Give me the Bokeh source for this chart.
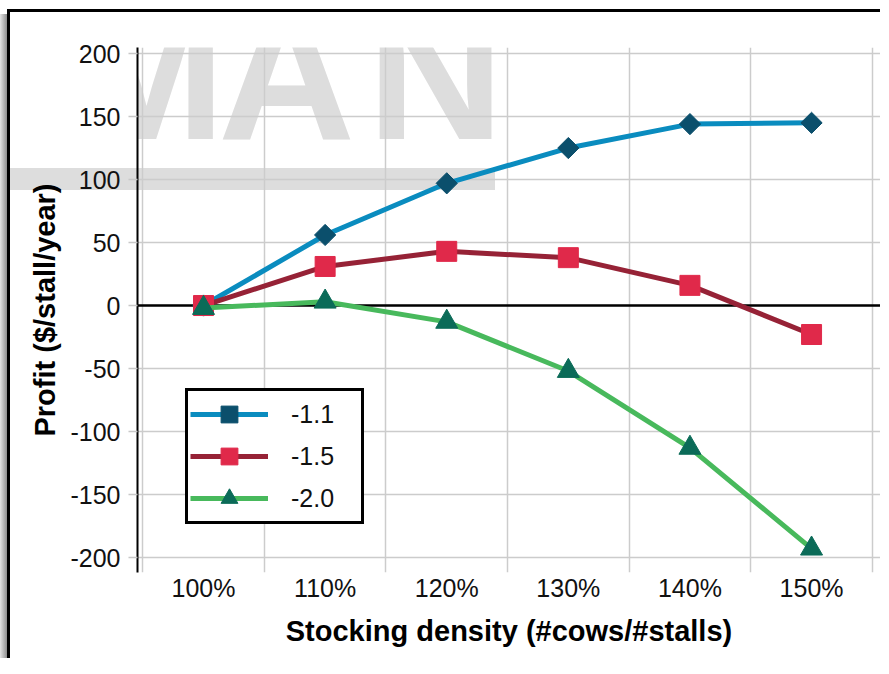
import math
from bokeh.plotting import figure
from bokeh.models import (Range1d, FixedTicker, Legend, LegendItem, Span, Label)
from bokeh.embed import file_html
from bokeh.resources import INLINE

# ---------------- data ----------------
categories = ["100%", "110%", "120%", "130%", "140%", "150%"]
series_names = ["-1.1", "-1.5", "-2.0"]
profit_11 = [0, 56, 97, 125, 144, 145]
profit_15 = [0, 31, 43, 38, 16, -23]
profit_20 = [-2, 3, -13, -52, -113, -193]
y_ticks = [-200, -150, -100, -50, 0, 50, 100, 150, 200]
y_tick_labels = ["-200", "-150", "-100", "-50", "0", "50", "100", "150", "200"]
x_title = "Stocking density (#cows/#stalls)"
y_title = "Profit ($/stall/year)"
watermark = "YMAN"

# ---------------- styles ----------------
REG = "Liberation Sans"
line_colors = ["#0a8cbf", "#962236", "#48b95c"]
marker_colors = ["#0b4f6c", "#e0294a", "#0b6b58"]
markers = ["square", "square", "triangle"]
angles = [math.pi / 4, 0, 0]
sizes = [15, 20, 22]

# decorative page background: frame lines, left shadow, grey logo band
page_background = ", ".join([
    "linear-gradient(#000,#000) 7px 9px / 3px 665px no-repeat",
    "linear-gradient(#000,#000) 7px 9px / 882px 3px no-repeat",
    "linear-gradient(to right,#e4e4e4,#8e8e8e) 0px 14px / 7px 660px no-repeat",
    "linear-gradient(#dddddd,#dddddd) 0px 168px / 495px 22px no-repeat",
    "#ffffff",
])

xs = list(range(len(categories)))

p = figure(width=880, height=658, output_backend="svg", toolbar_location=None,
           x_range=Range1d(-0.543, 5.567), y_range=Range1d(-211.9, 204.8),
           min_border_left=137, min_border_right=0, min_border_top=47,
           min_border_bottom=86)
p.outline_line_color = None
p.border_fill_alpha = 0
p.background_fill_alpha = 0
p.styles = {"background": page_background}

# grids
p.xgrid.ticker = FixedTicker(ticks=[i + 0.5 for i in range(-1, len(categories))])
p.ygrid.ticker = FixedTicker(ticks=y_ticks)
for g in (p.xgrid, p.ygrid):
    g.grid_line_color = "#cccccc"
    g.grid_line_width = 1.5

# x axis
p.xaxis.ticker = FixedTicker(ticks=xs)
p.xaxis.major_label_overrides = {i: c for i, c in zip(xs, categories)}
p.xaxis.axis_line_color = None
p.xaxis.major_tick_line_color = None
p.xaxis.minor_tick_line_color = None
p.xaxis.major_tick_out = 0
p.xaxis.major_tick_in = 0
p.xaxis.minor_tick_out = 0
p.xaxis.minor_tick_in = 0
p.xaxis.major_label_standoff = 1
p.xaxis.major_label_text_font = REG
p.xaxis.major_label_text_font_size = "25px"
p.xaxis.major_label_text_color = "#111111"
p.xaxis.axis_label = x_title
p.xaxis.axis_label_text_font = REG
p.xaxis.axis_label_text_font_style = "bold"
p.xaxis.axis_label_text_font_size = "29px"
p.xaxis.axis_label_text_color = "black"
p.xaxis.axis_label_standoff = 10

# y axis
p.yaxis.ticker = FixedTicker(ticks=y_ticks)
p.yaxis.major_label_overrides = {t: s for t, s in zip(y_ticks, y_tick_labels)}
p.yaxis.axis_line_color = "black"
p.yaxis.axis_line_width = 2
p.yaxis.major_tick_in = 0
p.yaxis.major_tick_out = 9
p.yaxis.major_tick_line_color = "#c8c8c8"
p.yaxis.major_tick_line_width = 1.5
p.yaxis.minor_tick_line_color = None
p.yaxis.major_label_standoff = 8
p.yaxis.major_label_text_font = REG
p.yaxis.major_label_text_font_size = "25px"
p.yaxis.major_label_text_color = "#111111"
p.yaxis.axis_label = y_title
p.yaxis.axis_label_text_font = REG
p.yaxis.axis_label_text_font_style = "bold"
p.yaxis.axis_label_text_font_size = "29px"
p.yaxis.axis_label_text_color = "black"
p.yaxis.axis_label_standoff = 6

# decorative watermark letters (screen px from frame bottom-left)
wm_pos = [-149, 9, 149, 298]
for ch, sx in zip(watermark, wm_pos):
    p.add_layout(Label(x=sx, y=394, x_units="screen", y_units="screen",
                       text=ch, text_align="center",
                       text_font=REG, text_font_style="bold",
                       text_font_size="190px", text_color="#dddddd",
                       level="image"))

# zero line
p.add_layout(Span(location=0, dimension="width", line_color="black",
                  line_width=2.5, level="underlay"))

# series
items = []
for name, ys, lc, mc, mk, ang, sz in zip(series_names,
                                         [profit_11, profit_15, profit_20],
                                         line_colors, marker_colors, markers,
                                         angles, sizes):
    lr = p.line(xs, ys, line_color=lc, line_width=5)
    sr = p.scatter(xs, ys, marker=mk, angle=ang, size=sz, fill_color=mc,
                   line_color=mc)
    items.append(LegendItem(label=name, renderers=[lr, sr]))

legend = Legend(items=items, location="bottom_left", margin=48,
                padding=2, spacing=0, glyph_width=78, glyph_height=42,
                label_standoff=23, label_width=68,
                label_text_font=REG, label_text_font_size="25px",
                label_text_color="#111111",
                border_line_color="black", border_line_width=3,
                border_line_alpha=1.0,
                background_fill_color="white", background_fill_alpha=1.0)
p.add_layout(legend)

open("out.html", "w").write(file_html(p, INLINE))
